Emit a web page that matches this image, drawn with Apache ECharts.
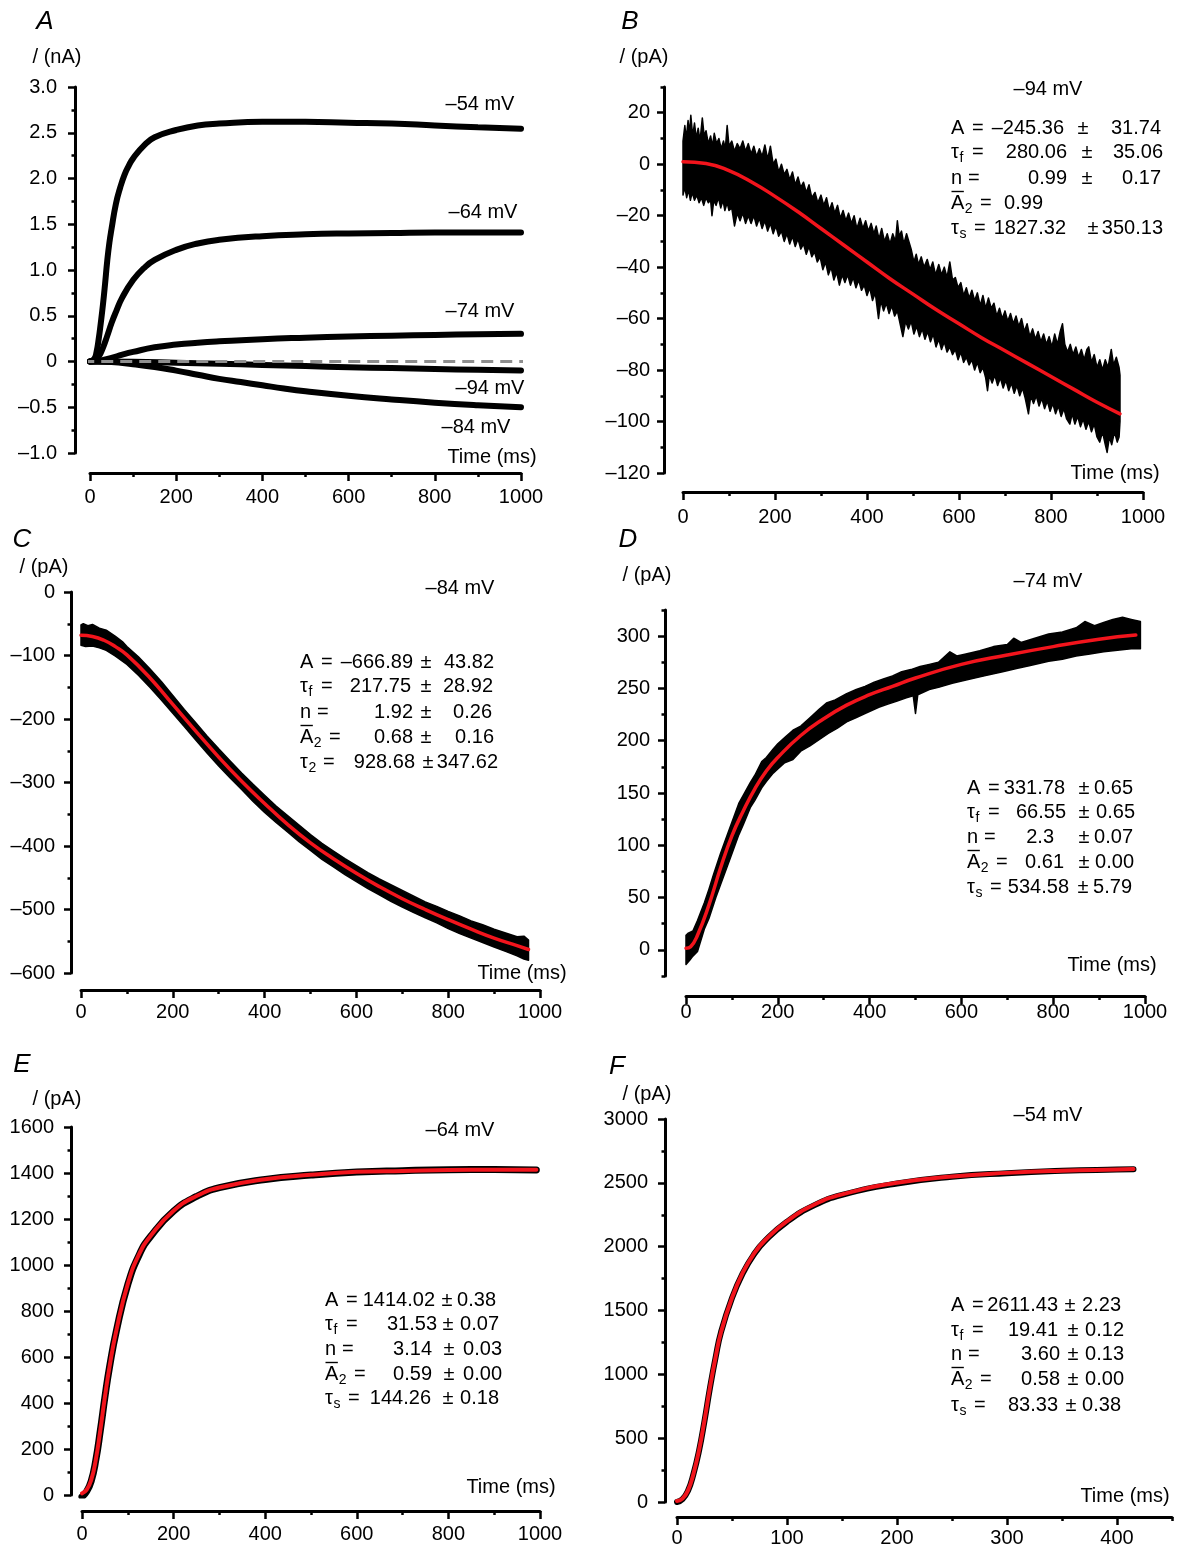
<!DOCTYPE html>
<html><head><meta charset="utf-8">
<script src="https://cdn.jsdelivr.net/npm/echarts@6/dist/echarts.min.js"></script>
<style>html,body{margin:0;padding:0;background:#fff}#c{width:1177px;height:1548px}</style>
</head><body><div id="c"></div><script>
// ================= DATA =================
// Panel A (nA) : traces at five voltages
const aT54 = [0,10,15,20,25,30,35,40,45,50,60,70,80,90,100,125,150,200,250,300,400,500,600,700,800,900,1000];
const aV54 = [0,0.03,0.1,0.24,0.42,0.62,0.85,1.1,1.3,1.45,1.72,1.9,2.04,2.14,2.22,2.36,2.45,2.53,2.58,2.6,2.62,2.62,2.61,2.6,2.58,2.56,2.545];
const aT64 = [0,10,20,30,40,50,60,75,100,125,150,200,250,300,400,500,600,700,800,1000];
const aV64 = [0,0.005,0.05,0.15,0.28,0.42,0.54,0.7,0.89,1.02,1.11,1.22,1.29,1.33,1.37,1.39,1.4,1.405,1.41,1.41];
const aT74 = [0,25,50,75,100,150,200,250,300,400,500,600,700,800,900,1000];
const aV74 = [0,0.01,0.04,0.075,0.105,0.155,0.185,0.205,0.22,0.244,0.26,0.273,0.282,0.29,0.297,0.302];
const aT94 = [0,100,200,300,400,500,600,700,800,900,1000];
const aV94 = [0,-0.003,-0.013,-0.024,-0.037,-0.05,-0.062,-0.072,-0.082,-0.09,-0.098];
const aT84 = [0,50,100,150,200,250,300,350,400,450,500,600,700,800,900,1000];
const aV84 = [0,-0.005,-0.03,-0.06,-0.1,-0.145,-0.19,-0.225,-0.26,-0.295,-0.325,-0.375,-0.415,-0.45,-0.478,-0.5];
const aZeroT = [-18,1012];
const aZeroV = [0,0];
const aVoltLabels = ['–54 mV','–64 mV','–74 mV','–94 mV','–84 mV'];

// Panel B (pA) : -94 mV, noisy trace envelope + fit
const bUpper = [[0,9],[4,15],[7,10],[11,17],[14,12],[17,19],[21,11],[25,16],[29,10],[33,14],[37,9],[42,18],[46,11],[50,13],[55,8],[60,11],[64,7],[68,12],[73,8],[78,10],[83,6],[88,9],[92,6],[96,15],[100,7],[106,9],[112,5],[118,8],[124,6],[130,9],[136,5],[142,8],[148,4],[154,7],[160,3],[166,6],[172,3],[178,7.5],[184,2],[190,7],[196,0],[202,2],[208,-3],[214,0],[220,-4],[226,-2],[232,-6],[238,-3],[244,-8],[250,-5],[256,-9],[262,-7],[268,-11],[274,-8],[280,-13],[287,-11],[293,-15],[300,-12],[306,-16],[312,-13],[318,-18],[324,-15],[330,-19],[336,-16],[342,-21],[348,-18],[354,-22],[360,-19],[366,-23],[372,-20],[378,-25],[385,-21],[391,-25],[397,-22],[403,-26],[409,-23],[415,-27],[420,-24],[426,-29],[432,-25],[438,-30],[444,-27],[450,-31],[456,-27],[462,-30],[466,-22],[470,-28],[475,-26],[480,-31],[486,-27],[491,-30],[496,-33],[502,-38],[507,-35],[512,-39],[518,-36],[524,-40],[531,-37],[537,-41],[543,-38],[549,-43],[556,-39],[562,-43],[568,-40],[574,-44],[580,-38],[586,-45],[592,-44],[598,-48],[604,-46],[610,-51],[616,-48],[622,-52],[628,-49],[634,-53],[640,-50],[646,-55],[652,-51],[658,-56],[664,-52],[670,-56],[676,-54],[682,-59],[688,-56],[694,-60],[700,-57],[706,-61],[712,-58],[718,-62],[724,-59],[730,-63],[736,-60],[742,-65],[748,-62],[754,-67],[760,-64],[766,-68],[772,-65],[778,-69],[784,-66],[790,-70],[796,-67],[802,-71],[808,-66],[814,-70],[820,-65],[825,-62],[830,-70],[836,-73],[842,-70],[848,-74],[854,-71],[860,-75],[866,-72],[872,-76],[878,-72],[882,-71],[888,-77],[894,-74],[900,-79],[906,-76],[912,-80],[918,-76],[924,-79],[931,-72],[936,-78],[942,-75],[948,-79],[950,-82]];
const bLower = [[0,-12],[4,-9],[8,-13],[12,-10],[16,-14],[20,-11],[25,-14],[30,-12],[35,-15],[40,-13],[45,-16],[50,-13],[55,-15],[60,-14],[63,-20],[67,-14],[72,-16],[77,-13],[82,-17],[87,-14],[91,-18],[96,-15],[100,-18],[106,-17],[112,-24],[118,-19],[124,-22],[130,-19],[136,-23],[142,-20],[148,-23],[154,-20],[160,-24],[166,-21],[172,-25],[178,-22],[184,-26],[190,-23],[196,-27],[202,-24],[208,-28],[214,-26],[220,-30],[226,-27],[232,-31],[238,-28],[244,-32],[250,-29],[256,-33],[262,-31],[268,-35],[274,-32],[280,-36],[286,-34],[292,-38],[298,-36],[304,-41],[310,-38],[316,-43],[322,-40],[328,-45],[334,-42],[340,-47],[346,-43],[352,-46],[358,-43],[364,-47],[370,-44],[376,-48],[382,-45],[388,-49],[394,-47],[400,-51],[406,-48],[412,-53],[418,-50],[425,-60],[430,-53],[436,-57],[442,-54],[448,-58],[454,-55],[460,-59],[466,-57],[472,-62],[478,-67],[484,-61],[490,-64],[496,-61],[502,-66],[508,-63],[514,-67],[520,-64],[526,-68],[532,-65],[538,-69],[544,-66],[550,-71],[556,-68],[562,-72],[568,-69],[574,-73],[580,-71],[586,-74],[592,-72],[598,-76],[604,-73],[610,-77],[616,-75],[622,-78],[628,-76],[634,-80],[640,-77],[646,-81],[652,-79],[658,-83],[662,-88],[666,-82],[672,-85],[678,-82],[684,-86],[690,-83],[696,-87],[702,-84],[708,-88],[714,-85],[720,-89],[726,-86],[732,-90],[738,-87],[744,-91],[751,-97],[756,-90],[762,-93],[768,-90],[774,-94],[780,-91],[786,-95],[792,-92],[798,-96],[804,-93],[810,-97],[816,-94],[822,-98],[828,-95],[834,-99],[841,-101],[846,-97],[852,-101],[858,-98],[864,-102],[870,-99],[876,-103],[882,-100],[888,-104],[894,-101],[900,-106],[906,-108],[912,-104],[918,-109],[922,-112],[927,-106],[932,-109],[938,-104],[944,-108],[948,-106],[950,-100]];
const bFitT = [0,50,100,150,200,250,300,350,400,450,500,550,600,650,700,750,800,850,900,950];
const bFitV = [1,0.3,-2.5,-7,-12.5,-18.5,-25,-31.5,-38,-44.5,-50.5,-56.5,-62,-67.5,-72.5,-77.5,-82.5,-87.5,-92.5,-97];

// Panel C (pA) : -84 mV
const cUpper = [[0,-52],[5,-50],[15,-53],[25,-51],[40,-57],[55,-60],[75,-70],[90,-78],[100,-86],[125,-102],[150,-121],[175,-141],[200,-163],[225,-185],[250,-206],[275,-227],[300,-247],[325,-266],[350,-285],[375,-303],[400,-320],[425,-337],[450,-352],[475,-367],[500,-382],[525,-396],[550,-408],[575,-420],[600,-431],[625,-442],[650,-452],[675,-461],[700,-470],[725,-479],[750,-488],[775,-495],[800,-503],[825,-510],[850,-518],[875,-524],[900,-531],[925,-537],[950,-543],[965,-542],[975,-548]];
const cLower = [[0,-84],[10,-86],[25,-85],[40,-88],[55,-92],[75,-101],[100,-114],[125,-131],[150,-150],[175,-170],[200,-191],[225,-212],[250,-233],[275,-254],[300,-274],[325,-293],[350,-311],[375,-330],[400,-347],[425,-363],[450,-378],[475,-393],[500,-407],[525,-421],[550,-433],[575,-445],[600,-456],[625,-467],[650,-477],[675,-487],[700,-496],[725,-505],[750,-513],[775,-521],[800,-530],[825,-538],[850,-545],[875,-552],[900,-559],[925,-566],[950,-573],[965,-578],[975,-580]];
const cFitT = [0,25,50,75,100,150,200,250,300,350,400,450,500,550,600,650,700,750,800,850,900,950,975];
const cFitV = [-68,-70,-76,-86,-99,-135,-177,-219,-260,-298,-333,-366,-395,-420,-443,-464,-483,-500,-516,-531,-545,-557,-563];

// Panel D (pA) : -74 mV
const dUpper = [[0,14],[5,16],[15,18],[25,28],[40,45],[50,58],[60,72],[75,92],[90,110],[100,122],[115,140],[125,148],[140,160],[150,167],[165,180],[175,184],[190,192],[200,197],[215,203],[233,210],[250,214],[270,222],[290,230],[306,236],[325,239],[350,245],[371,249],[390,252],[410,256],[430,259],[450,262],[470,266],[490,268],[510,271],[530,273],[550,275],[575,285],[590,281],[610,283],[640,286],[670,290],[700,292],[714,298],[730,294],[760,298],[790,302],[820,304],[850,308],[869,314],[890,310],[910,313],[930,316],[951,318],[970,316],[990,314]];
const dLower = [[0,-14],[8,-10],[15,-6],[25,-1.6],[40,20],[50,30],[65,50],[75,62],[90,80],[100,92],[115,110],[125,120],[140,136],[150,143],[165,155],[175,161],[190,169],[200,173],[215,179],[233,182],[250,190],[270,195],[290,201],[310,207],[330,212],[350,218],[370,222],[390,226],[420,232],[440,235],[460,238],[480,241],[495,243],[500,226],[505,244],[530,249],[550,251],[580,255],[610,258],[650,262],[690,266],[720,269],[750,272],[790,276],[820,278],[850,281],[880,283],[910,285],[950,287],[970,288],[990,288]];
const dFitT = [0,10,25,50,75,100,125,150,175,200,250,300,350,400,450,500,600,700,800,900,980];
const dFitV = [1.5,3,14,43,78,109,133,154,171,184,205,221,234,244,252,260,273,282,290,297,301];

// Panel E (pA) : -64 mV
const eT = [0,10,20,30,40,50,60,75,100,125,150,200,250,300,400,500,600,700,800,900,992];
const eTraceV = [-8,15,60,150,280,425,555,713,915,1045,1125,1234,1298,1336,1372,1391,1404,1410,1414,1415,1413];
const eFitV = [7,22,65,152,282,426,556,715,918,1048,1127,1236,1300,1337,1373,1392,1405,1409,1413,1414,1414];

// Panel F (pA) : -54 mV
const fT = [0,5,10,15,20,25,30,35,40,50,60,70,80,100,125,150,200,250,300,350,400,415];
const fTraceV = [0,22,88,220,400,635,895,1128,1330,1598,1795,1940,2045,2195,2325,2405,2495,2548,2576,2594,2604,2606];
const fFitV = [8,26,91,222,405,640,900,1130,1330,1600,1800,1945,2050,2200,2330,2410,2500,2550,2578,2595,2605,2608];

// Tick values & labels
const xTicks1000 = [0,200,400,600,800,1000];
const xLabels1000 = ['0','200','400','600','800','1000'];
const xMinor1000 = [100,300,500,700,900];
const xTicks450 = [0,100,200,300,400];
const xLabels450 = ['0','100','200','300','400'];
const xMinor450 = [50,150,250,350,450];
const yTicksA = [-1,-0.5,0,0.5,1,1.5,2,2.5,3];
const yLabelsA = ['–1.0','–0.5','0','0.5','1.0','1.5','2.0','2.5','3.0'];
const yMinorA = [-0.75,-0.25,0.25,0.75,1.25,1.75,2.25,2.75];
const yTicksB = [-120,-100,-80,-60,-40,-20,0,20];
const yLabelsB = ['–120','–100','–80','–60','–40','–20','0','20'];
const yMinorB = [-110,-90,-70,-50,-30,-10,10,30];
const yTicksC = [-600,-500,-400,-300,-200,-100,0];
const yLabelsC = ['–600','–500','–400','–300','–200','–100','0'];
const yMinorC = [-550,-450,-350,-250,-150,-50];
const yTicksD = [0,50,100,150,200,250,300];
const yLabelsD = ['0','50','100','150','200','250','300'];
const yMinorD = [-25,25,75,125,175,225,275,325];
const yTicksE = [0,200,400,600,800,1000,1200,1400,1600];
const yLabelsE = ['0','200','400','600','800','1000','1200','1400','1600'];
const yMinorE = [100,300,500,700,900,1100,1300,1500];
const yTicksF = [0,500,1000,1500,2000,2500,3000];
const yLabelsF = ['0','500','1000','1500','2000','2500','3000'];
const yMinorF = [250,750,1250,1750,2250,2750];

// Fit parameter text
const rowsStd = [['A',''],['τ','f'],['n',''],['A','2'],['τ','s']];
const rowsC = [['A',''],['τ','f'],['n',''],['A','2'],['τ','2']];
const pValB = ['–245.36','280.06','0.99','0.99','1827.32'];
const pErrB = ['31.74','35.06','0.17','','350.13'];
const pValC = ['–666.89','217.75','1.92','0.68','928.68'];
const pErrC = ['43.82','28.92','0.26','0.16','347.62'];
const pValD = ['331.78','66.55','2.3','0.61','534.58'];
const pErrD = ['0.65','0.65','0.07','0.00','5.79'];
const pValE = ['1414.02','31.53','3.14','0.59','144.26'];
const pErrE = ['0.38','0.07','0.03','0.00','0.18'];
const pValF = ['2611.43','19.41','3.60','0.58','83.33'];
const pErrF = ['2.23','0.12','0.13','0.00','0.38'];

// ================= LAYOUT / STYLE =================
const FONT = '"Liberation Sans", Arial, Helvetica, sans-serif';
const zip = (t, v) => t.map((x, i) => [x, v[i]]);
const panels = [
  {g:[90,87,431,366], xr:[0,1000], yr:[-1,3], yOff:15, xOff:20, yLm:18, xLm:14,
   xT:xTicks1000, xL:xLabels1000, xM:xMinor1000, yT:yTicksA, yL:yLabelsA, yM:yMinorA},
  {g:[683,87,460,386], xr:[0,1000], yr:[-120,30], yOff:19, xOff:19, yLm:14, xLm:15,
   xT:xTicks1000, xL:xLabels1000, xM:xMinor1000, yT:yTicksB, yL:yLabelsB, yM:yMinorB},
  {g:[81,592,459,381], xr:[0,1000], yr:[-600,0], yOff:10, xOff:17, yLm:16, xLm:12,
   xT:xTicks1000, xL:xLabels1000, xM:xMinor1000, yT:yTicksC, yL:yLabelsC, yM:yMinorC},
  {g:[686,610,459,366], xr:[0,1000], yr:[-25,325], yOff:21, xOff:20, yLm:15, xLm:6,
   xT:xTicks1000, xL:xLabels1000, xM:xMinor1000, yT:yTicksD, yL:yLabelsD, yM:yMinorD},
  {g:[82,1127,458,368], xr:[0,1000], yr:[0,1600], yOff:11, xOff:16, yLm:17, xLm:13,
   xT:xTicks1000, xL:xLabels1000, xM:xMinor1000, yT:yTicksE, yL:yLabelsE, yM:yMinorE},
  {g:[677,1119,495,383], xr:[0,450], yr:[0,3000], yOff:12, xOff:15, yLm:17, xLm:11,
   xT:xTicks450, xL:xLabels450, xM:xMinor450, yT:yTicksF, yL:yLabelsF, yM:yMinorF}
];

const grid = [], xAxis = [], yAxis = [], series = [];
const lineStyleAxis = {color:'#000', width:3};
panels.forEach((p, gi) => {
  grid.push({left:p.g[0], top:p.g[1], width:p.g[2], height:p.g[3], show:false});
  xAxis.push({type:'value', gridIndex:gi, min:p.xr[0], max:p.xr[1], position:'bottom', offset:p.xOff,
    axisLine:{show:true, onZero:false, lineStyle:lineStyleAxis},
    axisTick:{show:true, length:8, customValues:p.xT, lineStyle:{color:'#000', width:2.5}},
    axisLabel:{show:true, customValues:p.xT, margin:p.xLm, color:'#000', fontSize:20, fontFamily:FONT,
      formatter:v => p.xL[p.xT.indexOf(v)]},
    splitLine:{show:false}});
  xAxis.push({type:'value', gridIndex:gi, min:p.xr[0], max:p.xr[1], position:'bottom', offset:p.xOff,
    axisLine:{show:false, onZero:false},
    axisTick:{show:true, length:4, customValues:p.xM, lineStyle:{color:'#000', width:2.5}},
    axisLabel:{show:false}, splitLine:{show:false}});
  yAxis.push({type:'value', gridIndex:gi, min:p.yr[0], max:p.yr[1], position:'left', offset:p.yOff,
    axisLine:{show:true, onZero:false, lineStyle:lineStyleAxis},
    axisTick:{show:true, length:7, customValues:p.yT, lineStyle:{color:'#000', width:2.5}},
    axisLabel:{show:true, customValues:p.yT, margin:p.yLm, color:'#000', fontSize:20, fontFamily:FONT,
      formatter:v => p.yL[p.yT.indexOf(v)]},
    splitLine:{show:false}});
  yAxis.push({type:'value', gridIndex:gi, min:p.yr[0], max:p.yr[1], position:'left', offset:p.yOff,
    axisLine:{show:false, onZero:false},
    axisTick:{show:true, length:3.5, customValues:p.yM, lineStyle:{color:'#000', width:2.5}},
    axisLabel:{show:false}, splitLine:{show:false}});
});

function line(gi, data, color, width, extra) {
  return Object.assign({type:'line', xAxisIndex:gi*2, yAxisIndex:gi*2, data, showSymbol:false, symbol:'none',
    smooth:true, silent:true, animation:false,
    lineStyle:{color, width, cap:'round', join:'round'}}, extra || {});
}
function band(gi, upper, lower) {
  return {type:'custom', xAxisIndex:gi*2, yAxisIndex:gi*2, coordinateSystem:'cartesian2d', clip:false,
    silent:true, animation:false, data:[upper[0]],
    renderItem:(params, api) => {
      const pts = upper.map(q => api.coord(q)).concat(lower.slice().reverse().map(q => api.coord(q)));
      return {type:'polygon', shape:{points:pts}, style:{fill:'#000', stroke:'#000', lineWidth:1.5, lineJoin:'round'}};
    }};
}
const RED = '#f2141c';
// A
series.push(line(0, zip(aT54, aV54), '#000', 6));
series.push(line(0, zip(aT64, aV64), '#000', 6));
series.push(line(0, zip(aT74, aV74), '#000', 6));
series.push(line(0, zip(aT94, aV94), '#000', 6));
series.push(line(0, zip(aT84, aV84), '#000', 6));
series.push(line(0, zip(aZeroT, aZeroV), '#8e8e8e', 3, {smooth:false, clip:false,
  lineStyle:{color:'#8e8e8e', width:3, type:[12,7], cap:'butt'}}));
// B
series.push(band(1, bUpper, bLower));
series.push(line(1, zip(bFitT, bFitV), RED, 3.5));
// C
series.push(band(2, cUpper, cLower));
series.push(line(2, zip(cFitT, cFitV), RED, 3.5));
// D
series.push(band(3, dUpper, dLower));
series.push(line(3, zip(dFitT, dFitV), RED, 3.5));
// E
series.push(line(4, zip(eT, eTraceV), '#000', 7));
series.push(line(4, zip(eT, eFitV), RED, 4));
// F
series.push(line(5, zip(fT, fTraceV), '#000', 6));
series.push(line(5, zip(fT, fFitV), RED, 4));

// ================= TEXT =================
const graphic = [];
const mctx = document.createElement('canvas').getContext('2d');
function tw(s, size) { mctx.font = size + 'px ' + FONT; return mctx.measureText(s).width; }
function txt(x, y, s, opt) {
  graphic.push({type:'text', x, y, silent:true,
    style:Object.assign({text:s, fill:'#000', font:'20px ' + FONT, textAlign:'left', textVerticalAlign:'middle'}, opt || {})});
}
const letters = [['A',45,22],['B',630,22],['C',22,540],['D',628,540],['E',22,1065],['F',617,1067]];
letters.forEach(l => txt(l[1], l[2], l[0], {font:'italic 26px ' + FONT, textAlign:'center'}));
const units = [['/ (nA)',57,57],['/ (pA)',644,57],['/ (pA)',44,567],['/ (pA)',647,575],['/ (pA)',57,1099],['/ (pA)',647,1094]];
units.forEach(u => txt(u[1], u[2], u[0], {textAlign:'center'}));
const timePos = [[492,457],[1115,473],[522,973],[1112,965],[511,1487],[1125,1496]];
timePos.forEach(t => txt(t[0], t[1], 'Time (ms)', {textAlign:'center'}));
const aVoltPos = [[480,104],[483,212],[480,311],[490,388],[476,427]];
aVoltLabels.forEach((s, i) => txt(aVoltPos[i][0], aVoltPos[i][1], s, {textAlign:'center'}));
txt(1048,89,'–94 mV',{textAlign:'center'});
txt(460,588,'–84 mV',{textAlign:'center'});
txt(1048,581,'–74 mV',{textAlign:'center'});
txt(460,1130,'–64 mV',{textAlign:'center'});
txt(1048,1115,'–54 mV',{textAlign:'center'});

const eqOff = [21,21,17,29,23];
function block(rows, vals, errs, L) {
  rows.forEach((r, i) => {
    const y = L.ys[i], x0 = L.x0;
    txt(x0, y, r[0]);
    const w = tw(r[0], 20);
    if (r[1]) txt(x0 + w + 0.5, y + 6, r[1], {font:'14px ' + FONT});
    if (i === 3) graphic.push({type:'line', silent:true, shape:{x1:x0 + 0.5, y1:y - 11.5, x2:x0 + w - 0.5, y2:y - 11.5},
      style:{stroke:'#000', lineWidth:1.4}});
    txt(x0 + eqOff[i], y, '=');
    txt(L.valR[i], y, vals[i], {textAlign:'right'});
    if (errs[i]) {
      txt(L.pm[i], y, '±', {textAlign:'center'});
      txt(L.errR[i], y, errs[i], {textAlign:'right'});
    }
  });
}
block(rowsStd, pValB, pErrB, {x0:951, ys:[128,152.5,178,203,228], valR:[1064,1067,1067,1043,1066], pm:[1083,1087,1087,0,1093], errR:[1161,1163,1161,0,1163]});
block(rowsC, pValC, pErrC, {x0:300, ys:[662,686,712,737,762], valR:[413,411,413,413,415], pm:[426,426,426,426,428], errR:[494,493,492,494,498]});
block(rowsStd, pValD, pErrD, {x0:967, ys:[788,812,837,862,887], valR:[1065,1066,1054,1064,1069], pm:[1084,1084,1084,1084,1083], errR:[1133,1135,1133,1134,1132]});
block(rowsStd, pValE, pErrE, {x0:325, ys:[1300,1324,1349,1374,1398], valR:[435,437,432,432,431], pm:[447,448,449,449,448], errR:[496,499,502,502,499]});
block(rowsStd, pValF, pErrF, {x0:951, ys:[1305,1330,1354,1379,1405], valR:[1058,1058,1060,1060,1058], pm:[1070,1073,1073,1073,1071], errR:[1121,1124,1124,1124,1121]});

const chart = echarts.init(document.getElementById('c'), null, {renderer:'canvas', width:1177, height:1548});
chart.setOption({animation:false, backgroundColor:'#fff', grid, xAxis, yAxis, series, graphic});
</script></body></html>
